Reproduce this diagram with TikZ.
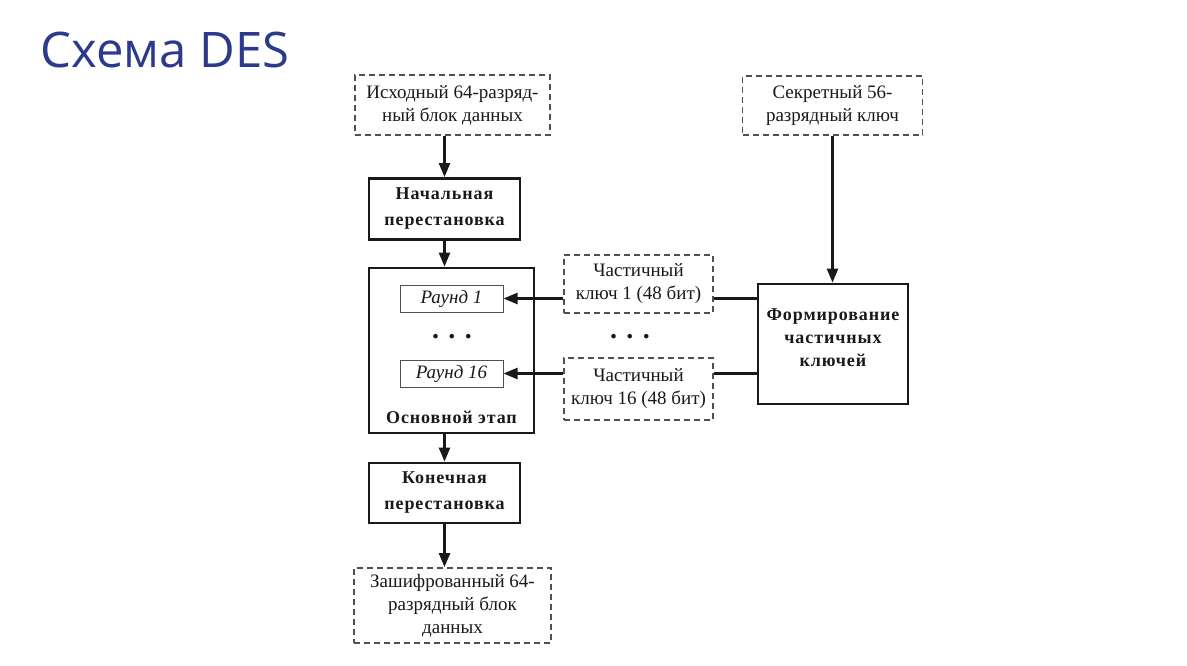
\documentclass[tikz,border=0pt]{standalone}
\usepackage{fontspec}
\setmainfont{Liberation Serif}
\newfontfamily\titlefont{Open Sans}
\newfontfamily\heavyfont[LetterSpace=5]{Liberation Serif Bold}
\usetikzlibrary{arrows.meta,positioning}
\definecolor{titleblue}{RGB}{44,58,140}
\definecolor{ink}{RGB}{25,25,25}
\definecolor{dashgray}{RGB}{80,80,80}
\tikzset{
  txt/.style={align=center, text=ink, inner sep=0pt, font=\fontsize{19}{23}\selectfont},
  keybox/.style={txt, draw=dashgray, dash pattern=on 6pt off 4pt, line width=1.8pt},
  stepbox/.style={txt, draw=ink, line width=2.8pt, font=\heavyfont\fontsize{18}{26}\selectfont},
  roundbox/.style={txt, draw=dashgray, line width=1pt, font=\fontsize{19}{23}\itshape\selectfont},
  dots/.style={txt, font=\fontsize{28}{28}\bfseries\selectfont},
}
\begin{document}
\begin{tikzpicture}[x=1pt, y=-1pt, -{Triangle[length=14pt,width=11pt]}, line width=2.4pt, draw=ink]
  \useasboundingbox[fill=white] (0,0) rectangle (1187,665);
  %title
  \node[anchor=west, text=titleblue, font=\titlefont\fontsize{49}{49}\selectfont] at (36,50) (title) {Схема DES};
  %nodes
  \node[keybox, minimum width=195pt, minimum height=60pt] at (452.5,105) (src) {Исходный 64-разряд-\\ный блок данных};
  \node[stepbox, minimum width=151pt, minimum height=61pt] at (444.5,209) (initperm) {Начальная\\перестановка};
  \node[draw, line width=2.8pt, minimum width=165pt, minimum height=165pt] at (451.5,350.5) (mainstage) {};
  \node[roundbox, minimum width=103pt, minimum height=27pt] at (451.5,298.5) (round1) {Раунд 1};
  \node[dots] at (452,337) (dotsl) {. . .};
  \node[roundbox, minimum width=103pt, minimum height=27pt] at (451.5,373.5) (round16) {Раунд 16};
  \node[stepbox, draw=none, above=9pt of mainstage.south] (stagelbl) {Основной этап};
  \node[stepbox, minimum width=151pt, minimum height=60pt] at (444.5,493) (finperm) {Конечная\\перестановка};
  \node[keybox, minimum width=197pt, minimum height=75pt] at (452.5,605.5) (out) {Зашифрованный 64-\\разрядный блок\\данных};
  \node[keybox, minimum width=180pt, minimum height=59pt] at (832.5,105.5) (secret) {Секретный 56-\\разрядный ключ};
  \node[stepbox, font=\heavyfont\fontsize{18}{23}\selectfont, text depth=13pt, minimum width=150pt, minimum height=120pt] at (833,344) (keygen) {Формирование\\частичных\\ключей};
  \node[keybox, minimum width=149pt, minimum height=58pt] at (638.5,284) (part1) {Частичный\\ключ 1 (48 бит)};
  \node[dots] at (630,337) (dotsr) {. . .};
  \node[keybox, minimum width=149pt, minimum height=62pt] at (638.5,389) (part16) {Частичный\\ключ 16 (48 бит)};
  \path
    (initperm |- src.south) edge (initperm.north)
    (initperm.south) edge (initperm.south |- mainstage.north)
    (finperm |- mainstage.south) edge (finperm.north)
    (finperm.south) edge (finperm.south |- out.north)
    (secret.south) edge (secret.south |- keygen.north)
    (keygen.west |- round1) edge[-] (part1.east |- round1)
    (part1.west |- round1) edge (round1.east)
    (keygen.west |- round16) edge[-] (part16.east |- round16)
    (part16.west |- round16) edge (round16.east);
\end{tikzpicture}
\end{document}
